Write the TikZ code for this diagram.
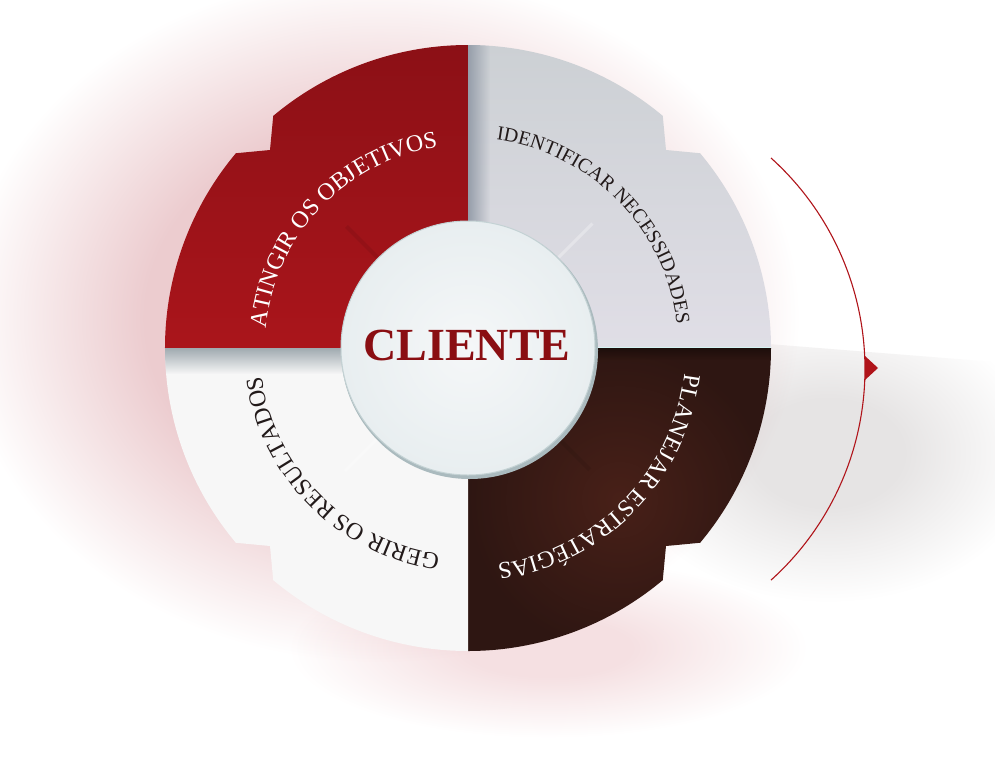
\documentclass[tikz,border=0pt]{standalone}
\usepackage{fontspec}
\setmainfont{Liberation Serif}
\newfontfamily\lblfont{Liberation Serif}
\usetikzlibrary{decorations.text,fadings}
\definecolor{glowc}{RGB}{236,204,207}
\definecolor{glowb}{RGB}{245,224,226}
\definecolor{greyc}{RGB}{230,228,228}
\definecolor{tlTop}{RGB}{140,16,22}
\definecolor{tlBot}{RGB}{170,21,27}
\definecolor{trTop}{RGB}{204,208,212}
\definecolor{trBot}{RGB}{224,222,230}
\definecolor{brIn}{RGB}{72,32,24}
\definecolor{brOut}{RGB}{46,22,18}
\definecolor{blc}{RGB}{247,247,247}
\definecolor{blShadow}{RGB}{160,170,176}
\definecolor{trShadow}{RGB}{150,158,170}
\definecolor{seamc}{RGB}{214,244,244}
\definecolor{cInner}{RGB}{245,247,248}
\definecolor{cOuter}{RGB}{232,238,240}
\definecolor{cRim}{RGB}{196,210,212}
\definecolor{cShadow}{RGB}{170,186,190}
\definecolor{cliRed}{RGB}{138,14,18}
\definecolor{arcRed}{RGB}{176,20,26}
\definecolor{darkTxt}{RGB}{34,26,26}
\pgfdeclareradialshading{glowshade}{\pgfpoint{0bp}{0bp}}{color(0bp)=(glowc); color(14bp)=(glowc); color(25bp)=(white); color(50bp)=(white)}
\pgfdeclareradialshading{glowbshade}{\pgfpoint{0bp}{0bp}}{color(0bp)=(glowb); color(8bp)=(glowb); color(25bp)=(white); color(50bp)=(white)}
\pgfdeclareradialshading{greyshade}{\pgfpoint{0bp}{0bp}}{color(0bp)=(greyc); color(9bp)=(greyc); color(25bp)=(white); color(50bp)=(white)}
\tikzset{
  lbl/.style={decorate, decoration={text along path, text align=center, text={#1}}},
  seamdark/.style={black, opacity=0.07, line width=4pt},
  seamlight/.style={white, opacity=0.30, line width=3pt},
}
\newcommand{\TLpath}{(0,0) -- (180:303) arc[start angle=180, end angle=140, radius=303] -- (-198,198) -- (130:303) arc[start angle=130, end angle=90, radius=303] -- cycle}
\newcommand{\TRpath}{(0,0) -- (90:303) arc[start angle=90, end angle=50, radius=303] -- (198,198) -- (40:303) arc[start angle=40, end angle=0, radius=303] -- cycle}
\newcommand{\BRpath}{(0,0) -- (0:303) arc[start angle=0, end angle=-40, radius=303] -- (198,-198) -- (-50:303) arc[start angle=-50, end angle=-90, radius=303] -- cycle}
\newcommand{\BLpath}{(0,0) -- (-90:303) arc[start angle=-90, end angle=-130, radius=303] -- (-198,-198) -- (-140:303) arc[start angle=-140, end angle=-180, radius=303] -- cycle}
\begin{document}
\begin{tikzpicture}[x=1pt,y=1pt]
\useasboundingbox (-468,-408) rectangle (527,348);
\fill[white] (-468,-408) rectangle (527,348);
% glow
\begin{scope}[blend mode=multiply]
\shade[shading=glowshade] (-88,30) ellipse [x radius=420, y radius=345];
\shade[shading=glowbshade] (80,-300) ellipse [x radius=260, y radius=90];
\begin{scope}
  \clip (0,4) -- (300,4) -- (527,-14) -- (527,-408) -- (0,-408) -- cycle;
  \shade[shading=greyshade] (360,-105) ellipse [x radius=210, y radius=150];
\end{scope}
\end{scope}
% quadrants
\shade[top color=tlTop, bottom color=tlBot] \TLpath;
\shade[top color=trTop, bottom color=trBot] \TRpath;
\shade[inner color=brIn, outer color=brOut] \BRpath;
\fill[blc] \BLpath;
% edge shadows
\begin{scope}
  \clip \TRpath;
  \fill[trShadow, path fading=east] (0,0) rectangle (22,303);
\end{scope}
\begin{scope}
  \clip \BLpath;
  \fill[blShadow, path fading=south] (-303,-26) rectangle (0,0);
\end{scope}
\begin{scope}
  \clip \BRpath;
  \fill[black, opacity=0.35, path fading=south] (0,-12) rectangle (303,0);
\end{scope}
\draw[seamc, line width=1.5pt] (128,0.5) -- (303,0.5);
% diagonal seams
\draw[seamdark] (135:128) -- (135:172);
\draw[seamlight] (45:128) -- (45:176);
\draw[seamdark] (-45:128) -- (-45:172);
\draw[seamlight] (-135:128) -- (-135:174);
% labels
\path[lbl={|\lblfont\fontsize{24}{24}\selectfont\color{white}|ATINGIR OS OBJETIVOS}] (181.5:203) arc[start angle=181.5, end angle=91.5, radius=203];
\path[lbl={|\lblfont\fontsize{20}{20}\selectfont\color{darkTxt}|IDENTIFICAR NECESSIDADES}] (89.3:210) arc[start angle=89.3, end angle=-0.7, radius=210];
\path[lbl={|\lblfont\fontsize{24}{24}\selectfont\color{white}|PLANEJAR ESTRATÉGIAS}] (0.5:218) arc[start angle=0.5, end angle=-89.5, radius=218];
\path[lbl={|\lblfont\fontsize{24}{24}\selectfont\color{darkTxt}|GERIR OS RESULTADOS}] (-90:208) arc[start angle=-90, end angle=-180, radius=208];
% centre
\fill[cShadow] (1.5,-2.5) circle (128.5);
\node[circle, minimum size=254pt, inner sep=0pt, draw=cRim, line width=1pt, inner color=cInner, outer color=cOuter] (centre) at (0,0) {};
\node[font=\fontsize{46}{46}\selectfont\bfseries, text=cliRed, anchor=base, inner sep=0pt] (cliente) at (-1,-12) {CLIENTE};
% cycle arc with arrow
\coordinate (arcTop) at (303,190);
\draw[arcRed, line width=1.1pt] (arcTop) arc[start angle=48, end angle=-48, radius=284];
\fill[arcRed] (397,-8) -- (410,-20) -- (397,-32) -- cycle;
\end{tikzpicture}
\end{document}
